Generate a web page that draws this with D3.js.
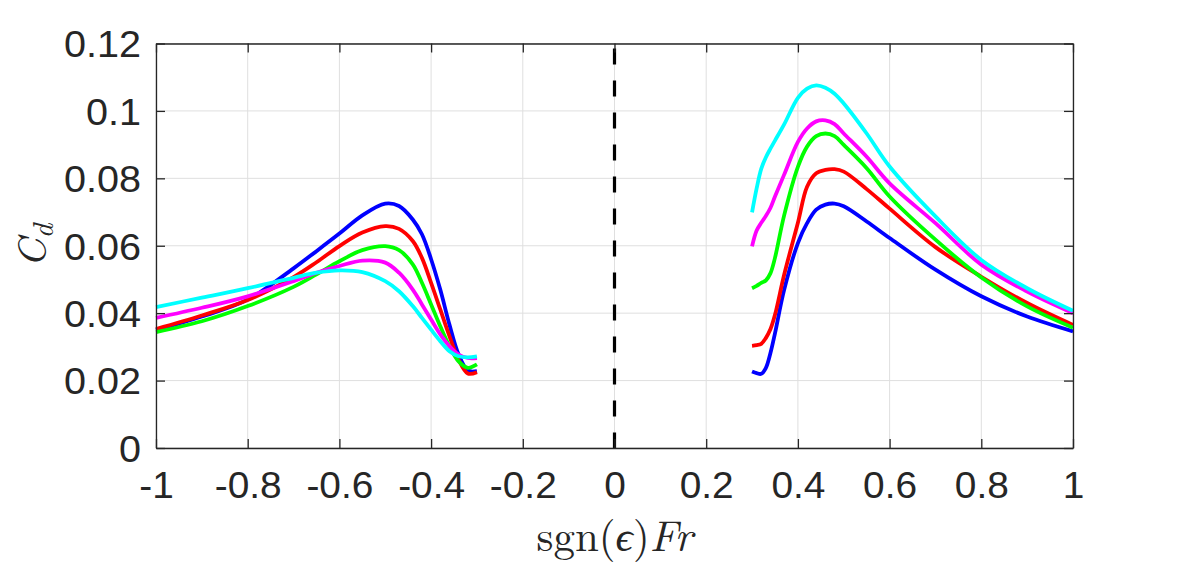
<!DOCTYPE html>
<html>
<head>
<meta charset="utf-8">
<script src="https://cdn.jsdelivr.net/npm/d3@7"></script>
<style>
  body { margin: 0; background: #fff; }
  svg { display: block; }
</style>
</head>
<body>
<svg id="chart" width="1185" height="567"></svg>
<script>
// Fr < 0 branch
const leftX = [-1, -0.9, -0.8, -0.7, -0.65, -0.6, -0.55, -0.5, -0.47, -0.44, -0.42, -0.4, -0.38, -0.36, -0.34, -0.32, -0.3]
const leftBlue = [0.0350, 0.0390, 0.0440, 0.0533, 0.0584, 0.0636, 0.0690, 0.0725, 0.0718, 0.0678, 0.0634, 0.0560, 0.0470, 0.0366, 0.0277, 0.0230, 0.0228]
const leftRed = [0.0353, 0.0393, 0.0439, 0.0507, 0.0551, 0.0599, 0.0639, 0.0658, 0.0650, 0.0614, 0.0564, 0.0490, 0.0411, 0.0332, 0.0262, 0.0221, 0.0225]
const leftGreen = [0.0344, 0.0376, 0.0421, 0.0478, 0.0515, 0.0554, 0.0587, 0.0599, 0.0587, 0.0545, 0.0490, 0.0426, 0.0361, 0.0302, 0.0257, 0.0238, 0.0248]
const leftMagenta = [0.0386, 0.0416, 0.0450, 0.0495, 0.0520, 0.0540, 0.0556, 0.0550, 0.0520, 0.0470, 0.0426, 0.0381, 0.0337, 0.0302, 0.0277, 0.0267, 0.0267]
const leftCyan = [0.0418, 0.0446, 0.0474, 0.0505, 0.0520, 0.0527, 0.0522, 0.0495, 0.0465, 0.0421, 0.0386, 0.0351, 0.0317, 0.0287, 0.0272, 0.0269, 0.0272]

// Fr > 0 branch
const rightX = [0.3, 0.31, 0.32, 0.33, 0.34, 0.35, 0.37, 0.4, 0.42, 0.44, 0.46, 0.48, 0.5, 0.55, 0.6, 0.7, 0.8, 0.9, 1.0]
const rightBlue = [0.0227, 0.0222, 0.0220, 0.0237, 0.0281, 0.0340, 0.0469, 0.0608, 0.0667, 0.0707, 0.0722, 0.0725, 0.0717, 0.0672, 0.0623, 0.0529, 0.0450, 0.0390, 0.0346]
const rightRed = [0.0303, 0.0305, 0.0309, 0.0326, 0.0352, 0.0395, 0.0514, 0.0668, 0.0775, 0.0815, 0.0825, 0.0827, 0.0820, 0.0768, 0.0710, 0.0596, 0.0508, 0.0430, 0.0365]
const rightGreen = [0.0474, 0.0481, 0.0490, 0.0497, 0.0518, 0.0564, 0.0690, 0.0834, 0.0894, 0.0925, 0.0933, 0.0925, 0.0899, 0.0830, 0.0746, 0.0618, 0.0506, 0.0420, 0.0357]
const rightMagenta = [0.0598, 0.0645, 0.0668, 0.0688, 0.0712, 0.0746, 0.0811, 0.0908, 0.0948, 0.0969, 0.0972, 0.0961, 0.0933, 0.0864, 0.0785, 0.0667, 0.0544, 0.0464, 0.0400]
const rightCyan = [0.0699, 0.0770, 0.0828, 0.0862, 0.0888, 0.0912, 0.0960, 0.1039, 0.1066, 0.1076, 0.1069, 0.1051, 0.1022, 0.0933, 0.0835, 0.0687, 0.0558, 0.0474, 0.0407]

const xTicks = [-1, -0.8, -0.6, -0.4, -0.2, 0, 0.2, 0.4, 0.6, 0.8, 1]
const yTicks = [0, 0.02, 0.04, 0.06, 0.08, 0.1, 0.12]

const series = [
  { color: "#0000ff", left: leftBlue, right: rightBlue },
  { color: "#ff0000", left: leftRed, right: rightRed },
  { color: "#00ff00", left: leftGreen, right: rightGreen },
  { color: "#ff00ff", left: leftMagenta, right: rightMagenta },
  { color: "#00ffff", left: leftCyan, right: rightCyan }
]

const svg = d3.select("#chart")
const margin = { top: 43.5, right: 112, bottom: 119, left: 156 }
const width = 1185 - margin.left - margin.right
const height = 567 - margin.top - margin.bottom
const g = svg.append("g").attr("transform", `translate(${margin.left},${margin.top})`)

const x = d3.scaleLinear().domain([-1, 1]).range([0, width])
const y = d3.scaleLinear().domain([0, 0.12]).range([height, 0])

//--------- grid
g.selectAll(".gx").data(xTicks).join("line").attr("class", "gx")
  .attr("x1", d => x(d)).attr("x2", d => x(d)).attr("y1", 0).attr("y2", height)
  .attr("stroke", "#dfdfdf").attr("stroke-width", 1)
g.selectAll(".gy").data(yTicks).join("line").attr("class", "gy")
  .attr("x1", 0).attr("x2", width).attr("y1", d => y(d)).attr("y2", d => y(d))
  .attr("stroke", "#dfdfdf").attr("stroke-width", 1)

//--------- curves
const line = d3.line().curve(d3.curveCatmullRom.alpha(0.5)).x(d => x(d[0])).y(d => y(d[1]))
series.forEach(s => {
  g.append("path").attr("d", line(leftX.map((v, i) => [v, s.left[i]])))
    .attr("fill", "none").attr("stroke", s.color).attr("stroke-width", 3.8).attr("stroke-linejoin", "round")
  g.append("path").attr("d", line(rightX.map((v, i) => [v, s.right[i]])))
    .attr("fill", "none").attr("stroke", s.color).attr("stroke-width", 3.8).attr("stroke-linejoin", "round")
})

// dashed line at Fr = 0
g.append("line").attr("x1", x(0)).attr("x2", x(0)).attr("y1", 0).attr("y2", height)
  .attr("stroke", "#000").attr("stroke-width", 3.2)
  .attr("stroke-dasharray", "16,16").attr("stroke-dashoffset", 27)

//--------- axes (box with inward ticks, MATLAB style)
const tickLen = 9
const axisColor = "#262626"
const fmt = d => String(d)
const axB = g.append("g").attr("transform", `translate(0,${height})`)
  .call(d3.axisBottom(x).tickValues(xTicks).tickSizeInner(-tickLen).tickSizeOuter(0).tickFormat(fmt))
g.append("g")
  .call(d3.axisTop(x).tickValues(xTicks).tickSizeInner(-tickLen).tickSizeOuter(0).tickFormat(""))
const axL = g.append("g")
  .call(d3.axisLeft(y).tickValues(yTicks).tickSizeInner(-tickLen).tickSizeOuter(0).tickFormat(fmt))
g.append("g").attr("transform", `translate(${width},0)`)
  .call(d3.axisRight(y).tickValues(yTicks).tickSizeInner(-tickLen).tickSizeOuter(0).tickFormat(""))

g.selectAll(".domain").attr("stroke", axisColor).attr("stroke-width", 1.3)
g.selectAll(".tick line").attr("stroke", axisColor).attr("stroke-width", 1.3)
g.selectAll(".tick text").attr("fill", axisColor)
  .style("font-family", "'Liberation Sans', Arial, sans-serif").style("font-size", "37px")

axB.selectAll(".tick text").attr("y", 0).attr("dy", 0)
  .attr("transform", "translate(0,50) scale(1.05,1)")
axL.selectAll(".tick text").attr("x", 0).attr("dy", "0.36em")
  .attr("transform", "translate(-15,0) scale(1.07,1)")

//--------- labels
const serif = "'Latin Modern Roman', 'CMU Serif', 'Liberation Serif', 'Times New Roman', serif"
const xl = svg.append("text").attr("x", margin.left + width / 2).attr("y", 551)
  .attr("text-anchor", "middle").attr("fill", "#262626")
  .style("font-family", serif).style("font-size", "43px")
xl.append("tspan").text("sgn(")
xl.append("tspan").style("font-style", "italic").text("ϵ")
xl.append("tspan").text(")")
xl.append("tspan").style("font-style", "italic").text("Fr")

const yl = svg.append("text").attr("transform", `translate(46,${margin.top + height / 2}) rotate(-90)`)
  .attr("text-anchor", "middle").attr("fill", "#262626")
  .style("font-family", serif).style("font-size", "41px").style("font-style", "italic")
yl.append("tspan").text("C")
yl.append("tspan").attr("dy", 7).style("font-size", "29px").text("d")
</script>
</body>
</html>
